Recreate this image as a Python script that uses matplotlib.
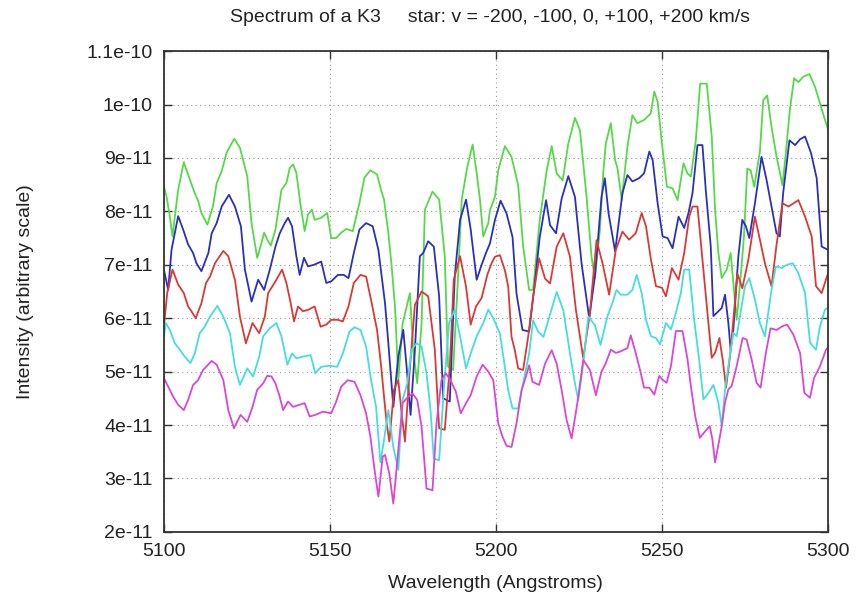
import matplotlib
matplotlib.use("Agg")
import matplotlib.pyplot as plt
import numpy as np

# values, intensity in units of 1e-11
green_wl = [5100, 5100.8, 5101.8, 5102.6, 5103.3, 5104.3, 5106, 5107.8, 5109.3, 5110.3,
            5111.3, 5113.1, 5114.8, 5115.9, 5117.4, 5118.9, 5121.2, 5122.9, 5125.1, 5126.4,
            5128.1, 5129.1, 5130.2, 5131.4, 5132.2, 5133.6, 5135.4, 5136.9, 5137.9, 5138.9,
            5139.9, 5141.2, 5142.4, 5143.4, 5144.6, 5145.4, 5147.4, 5149.2, 5150.4, 5151.9,
            5153.4, 5154.9, 5156.9, 5158.9, 5160.4, 5162.2, 5164.2, 5165.4, 5166.3, 5167.6,
            5168.6, 5169.6, 5170.6, 5171.9, 5174.1, 5175.1, 5176.3, 5177.6, 5178.6, 5179.9,
            5180.9, 5182.9, 5184.6, 5185.6, 5187.1, 5188.4, 5189.7, 5191.4, 5193.0, 5194.2,
            5195.2, 5196.2, 5197.7, 5198.2, 5199.7, 5200.7, 5202.7, 5204.7, 5206.7, 5208.2,
            5210.0, 5211.2, 5213.2, 5215.3, 5216.8, 5218.3, 5220.1, 5221.8, 5223.8, 5225.3,
            5227.3, 5228.8, 5229.8, 5231.3, 5232.3, 5233.1, 5234.6, 5235.9, 5236.6, 5237.9,
            5239.6, 5241.1, 5242.6, 5244.6, 5246.6, 5247.7, 5248.7, 5250.0, 5251.5, 5253.2,
            5254.7, 5256.5, 5257.7, 5258.7, 5260.2, 5261.5, 5263.5, 5265.0, 5266.0, 5267.0,
            5268.0, 5269.5, 5270.7, 5271.7, 5272.5, 5273.7, 5274.7, 5275.7, 5276.7, 5277.8,
            5279.5, 5280.5, 5281.7, 5283.0, 5284.5, 5286.3, 5287.5, 5288.5, 5289.8, 5291.1,
            5292.6, 5294.4, 5296.1, 5297.6, 5299.1, 5300]
green = [8.47, 8.28, 7.9, 7.53, 7.9, 8.4, 8.92, 8.6, 8.34, 8.2,
         7.97, 7.75, 8.1, 8.53, 8.75, 9.1, 9.36, 9.19, 8.66, 7.78,
         7.13, 7.34, 7.6, 7.44, 7.36, 7.66, 8.4, 8.53, 8.81, 8.88,
         8.72, 8.1, 7.63, 7.94, 8.03, 7.84, 7.88, 7.97, 7.5, 7.5,
         7.6, 7.67, 7.63, 8.16, 8.63, 8.77, 8.69, 8.4, 8.22, 7.6,
         6.97, 6.22, 4.84, 5.9, 6.47, 5.4, 4.78, 5.9, 8.03, 8.22,
         8.37, 8.22, 7.16, 5.09, 5.03, 6.53, 8.22, 8.84, 9.25, 8.72,
         8.22, 7.53, 7.78, 8.02, 8.27, 8.77, 9.22, 9.02, 8.49, 7.34,
         6.53, 6.53, 7.84, 8.77, 9.22, 8.71, 8.58, 9.27, 9.75, 9.52,
         8.27, 7.15, 6.74, 7.65, 8.71, 9.27, 9.65, 8.96, 8.81, 8.21,
         9.21, 9.8, 9.65, 9.71, 9.83, 10.24, 10.05, 9.27, 8.46, 8.43,
         8.21, 8.9, 8.71, 8.65, 9.33, 10.39, 10.39, 9.4, 8.03, 7.22,
         6.75, 6.91, 7.22, 6.53, 5.97, 6.78, 7.53, 8.8, 8.77, 8.46,
         9.12, 10.08, 10.17, 9.58, 9.03, 8.49, 9.21, 9.89, 10.49, 10.42,
         10.52, 10.57, 10.33, 10.02, 9.71, 9.54]

blue_wl = [5100, 5101.3, 5102.3, 5104.3, 5105.8, 5107.3, 5108.8, 5109.8, 5111.3, 5113.4,
           5114.4, 5115.9, 5117.4, 5119.6, 5121.4, 5123.2, 5124.4, 5126.4, 5128.4, 5130.2,
           5131.9, 5133.6, 5134.9, 5136.4, 5137.4, 5138.6, 5139.9, 5140.9, 5142.2, 5143.4,
           5145.2, 5147.4, 5148.9, 5150.4, 5152.4, 5154.2, 5155.6, 5157.2, 5158.9, 5160.9,
           5162.9, 5164.6, 5166.6, 5167.6, 5169.1, 5170.6, 5172.1, 5173.1, 5174.3, 5175.6,
           5177.1, 5178.1, 5179.6, 5181.3, 5182.9, 5184.1, 5186.1, 5187.6, 5189.2, 5191.0,
           5192.4, 5194.2, 5195.7, 5197.0, 5198.2, 5199.7, 5201.4, 5203.2, 5205.0, 5206.2,
           5208.0, 5210.0, 5211.7, 5213.2, 5215.1, 5216.3, 5218.1, 5219.8, 5221.8, 5223.8,
           5225.8, 5228.1, 5229.8, 5231.8, 5232.8, 5233.9, 5235.9, 5238.1, 5239.6, 5241.1,
           5243.1, 5244.6, 5246.2, 5247.2, 5248.7, 5250.2, 5251.7, 5253.2, 5255.0, 5256.7,
           5258.0, 5259.2, 5260.7, 5262.2, 5263.2, 5264.7, 5265.5, 5266.5, 5268.0, 5269.0,
           5270.0, 5270.7, 5271.5, 5273.0, 5274.2, 5275.3, 5276.3, 5278.0, 5280.0, 5281.5,
           5283.0, 5284.5, 5285.5, 5286.5, 5288.4, 5290.1, 5291.6, 5293.1, 5294.9, 5296.6,
           5298.1, 5300]
blue = [6.91, 6.53, 7.28, 7.91, 7.66, 7.38, 7.22, 7.03, 6.88, 7.22,
        7.59, 7.78, 8.09, 8.31, 8.09, 7.72, 6.91, 6.31, 6.72, 6.53,
        6.91, 7.34, 7.59, 7.78, 7.88, 7.72, 7.16, 6.81, 7.13, 6.97,
        7.0, 7.06, 6.66, 6.69, 6.81, 6.81, 6.75, 7.22, 7.66, 7.78,
        7.72, 7.28, 6.28, 5.53, 4.34, 5.28, 5.78, 5.09, 4.19, 5.41,
        7.16, 7.22, 7.44, 7.34, 6.41, 4.5, 4.44, 6.78, 7.84, 8.22,
        7.66, 6.72, 7.0, 7.22, 7.4, 7.84, 8.2, 7.96, 7.52, 6.46,
        5.78, 5.75, 6.65, 7.52, 8.21, 7.74, 7.59, 8.24, 8.66, 8.27,
        7.02, 6.0, 6.78, 8.27, 8.62, 7.97, 7.25, 8.34, 8.68, 8.56,
        8.62, 8.71, 9.12, 8.96, 8.15, 7.53, 7.5, 7.31, 7.9, 7.69,
        7.97, 8.34, 9.24, 9.24, 8.4, 7.34, 6.04, 6.1, 6.19, 6.44,
        5.91, 5.41, 5.78, 7.15, 7.84, 7.72, 7.5, 8.15, 9.02, 8.59,
        8.09, 7.59, 7.53, 8.34, 9.33, 9.24, 9.35, 9.4, 9.09, 8.62,
        7.34, 7.28]

red_wl = [5100, 5101.0, 5102.6, 5104.3, 5106.0, 5107.3, 5108.3, 5109.6, 5111.3, 5112.7,
          5113.9, 5115.4, 5117.9, 5119.4, 5121.4, 5122.9, 5124.7, 5126.7, 5128.7, 5130.4,
          5131.4, 5133.9, 5135.6, 5136.9, 5138.2, 5139.2, 5140.4, 5141.9, 5143.6, 5145.4,
          5147.2, 5148.9, 5150.4, 5152.4, 5153.9, 5155.6, 5157.2, 5159.2, 5160.9, 5162.4,
          5164.2, 5165.4, 5166.1, 5167.1, 5167.9, 5169.3, 5170.6, 5171.6, 5172.6, 5173.9,
          5175.6, 5177.6, 5179.6, 5181.6, 5182.9, 5184.6, 5186.1, 5187.3, 5189.2, 5191.0,
          5192.4, 5194.0, 5195.7, 5197.4, 5198.7, 5199.7, 5201.2, 5202.7, 5203.7, 5204.7,
          5205.7, 5206.7, 5208.2, 5209.7, 5211.2, 5213.0, 5214.8, 5216.3, 5218.3, 5220.3,
          5222.3, 5224.1, 5226.3, 5228.3, 5230.3, 5232.1, 5234.1, 5236.1, 5238.1, 5240.1,
          5242.1, 5243.9, 5245.2, 5246.7, 5248.2, 5250.0, 5251.2, 5253.0, 5255.0, 5256.7,
          5258.2, 5259.2, 5260.7, 5262.2, 5263.7, 5265.0, 5266.0, 5267.3, 5268.3, 5269.3,
          5270.5, 5271.7, 5272.7, 5274.2, 5276.0, 5278.0, 5279.5, 5281.0, 5283.0, 5284.5,
          5286.3, 5288.1, 5289.6, 5291.1, 5293.1, 5295.1, 5296.4, 5298.1, 5300]
red = [5.84, 6.47, 6.91, 6.63, 6.47, 6.22, 6.13, 6.0, 6.28, 6.66,
       6.78, 7.03, 7.26, 7.16, 6.72, 6.03, 5.53, 5.91, 5.72, 6.03,
       6.47, 6.72, 6.91, 6.66, 6.28, 5.94, 6.22, 6.13, 6.16, 6.22,
       5.84, 5.88, 5.97, 5.97, 5.94, 6.22, 6.66, 6.81, 6.78, 6.34,
       5.78, 5.12, 4.66, 4.03, 3.69, 4.66, 4.84, 4.22, 3.69, 4.91,
       6.25, 6.5, 6.41, 5.41, 3.94, 3.91, 5.09, 6.72, 7.16, 6.59,
       5.88, 6.22, 6.38, 6.81, 7.03, 7.15, 7.18, 6.9, 6.59, 5.65,
       5.4, 5.06, 5.03, 5.65, 6.4, 7.12, 6.74, 6.65, 7.34, 7.59,
       7.15, 6.15, 5.25, 6.09, 7.46, 7.03, 6.44, 7.28, 7.62, 7.47,
       7.59, 7.97, 7.72, 7.09, 6.6, 6.57, 6.41, 6.94, 6.72, 7.22,
       7.9, 8.09, 8.09, 7.09, 6.1, 5.26, 5.35, 5.63, 5.22, 4.7,
       5.29, 6.1, 6.84, 6.56, 7.09, 7.9, 7.47, 7.03, 6.6, 7.37,
       8.15, 8.09, 8.15, 8.21, 7.9, 7.53, 6.6, 6.47, 6.84]

cyan_wl = [5100, 5100.6, 5101.8, 5103.3, 5104.8, 5106.3, 5108.0, 5109.3, 5110.8, 5112.3,
           5113.9, 5116.1, 5117.9, 5119.9, 5121.4, 5122.9, 5125.1, 5126.9, 5128.7, 5129.9,
           5131.9, 5133.9, 5135.4, 5137.2, 5138.6, 5139.9, 5141.9, 5144.2, 5145.6, 5147.4,
           5149.9, 5152.2, 5153.9, 5155.9, 5157.4, 5159.2, 5160.9, 5162.4, 5163.9, 5165.2,
           5166.3, 5167.6, 5169.1, 5170.6, 5171.9, 5173.3, 5174.6, 5176.1, 5177.6, 5179.1,
           5180.3, 5181.3, 5182.9, 5184.3, 5185.9, 5187.6, 5189.2, 5191.0, 5192.4, 5194.2,
           5196.2, 5197.7, 5199.2, 5201.2, 5202.4, 5203.7, 5205.0, 5206.7, 5208.2, 5210.0,
           5211.2, 5212.7, 5214.3, 5216.1, 5218.3, 5220.3, 5222.3, 5223.8, 5224.8, 5226.3,
           5227.8, 5229.8, 5231.5, 5233.6, 5235.1, 5236.3, 5237.6, 5239.6, 5241.1, 5242.4,
           5243.9, 5245.2, 5246.7, 5248.2, 5249.4, 5251.2, 5252.7, 5254.2, 5255.7, 5256.7,
           5258.2, 5259.7, 5261.2, 5262.5, 5264.0, 5265.5, 5267.0, 5268.0, 5269.0, 5270.3,
           5271.5, 5272.5, 5274.0, 5275.0, 5276.3, 5278.0, 5279.5, 5281.0, 5283.0, 5284.3,
           5286.0, 5287.7, 5289.4, 5291.1, 5293.1, 5294.6, 5296.4, 5297.6, 5299.1, 5300]
cyan = [5.66, 5.91, 5.78, 5.53, 5.41, 5.28, 5.16, 5.34, 5.72, 5.84,
        6.03, 6.23, 6.03, 5.72, 5.09, 4.75, 5.06, 4.91, 5.28, 5.66,
        5.81, 5.91, 5.66, 5.13, 5.34, 5.25, 5.28, 5.31, 4.97, 5.09,
        5.11, 5.09, 5.34, 5.75, 5.83, 5.78, 5.47, 4.84, 4.34, 3.3,
        3.72, 4.28, 3.59, 3.16, 4.47, 4.78, 5.41, 5.53, 5.47, 4.97,
        4.28, 3.37, 3.34, 4.66, 5.91, 6.16, 5.66, 5.06, 5.34, 5.66,
        5.91, 6.16, 6.0, 5.71, 5.21, 4.65, 4.31, 4.31, 4.78, 5.34,
        5.96, 5.75, 5.65, 6.03, 6.49, 6.15, 5.34, 4.78, 4.47, 5.15,
        6.03, 5.87, 5.5, 6.04, 6.29, 6.53, 6.44, 6.44, 6.53, 6.81,
        6.47, 5.97, 5.66, 5.63, 5.51, 5.91, 5.79, 6.1, 6.47, 6.91,
        6.91, 5.97, 5.23, 4.48, 4.6, 4.75, 4.42, 3.98, 4.67, 5.23,
        5.73, 5.66, 6.22, 6.6, 6.75, 6.35, 5.91, 5.66, 6.53, 6.97,
        6.94, 7.0, 7.03, 6.84, 6.47, 5.54, 5.41, 5.85, 6.16, 6.2]

magenta_wl = [5100, 5101.3, 5102.8, 5104.3, 5106.0, 5107.3, 5108.8, 5110.3, 5111.8, 5114.4,
              5115.9, 5117.9, 5119.4, 5121.1, 5123.1, 5125.1, 5126.7, 5128.1, 5129.9, 5131.1,
              5132.4, 5133.6, 5134.9, 5135.9, 5137.4, 5138.9, 5140.9, 5142.4, 5143.9, 5145.6,
              5147.9, 5150.4, 5151.9, 5153.4, 5155.4, 5157.4, 5159.2, 5160.9, 5162.2, 5163.6,
              5164.6, 5165.9, 5166.6, 5167.9, 5169.1, 5170.6, 5171.9, 5173.1, 5174.9, 5176.3,
              5177.6, 5179.1, 5180.9, 5182.1, 5183.6, 5184.9, 5186.3, 5187.9, 5189.4, 5191.0,
              5192.4, 5194.2, 5196.0, 5197.7, 5199.2, 5200.7, 5202.0, 5203.2, 5204.7, 5206.2,
              5207.7, 5209.0, 5210.0, 5211.0, 5213.0, 5214.8, 5216.8, 5218.3, 5219.8, 5221.3,
              5222.8, 5224.5, 5226.3, 5228.3, 5230.1, 5231.8, 5233.1, 5234.6, 5236.1, 5237.6,
              5239.6, 5240.6, 5242.1, 5243.6, 5244.6, 5246.2, 5247.7, 5249.2, 5250.2, 5251.4,
              5252.7, 5254.2, 5256.2, 5257.7, 5258.7, 5260.0, 5261.4, 5262.7, 5264.4, 5265.2,
              5266.0, 5267.3, 5268.0, 5269.0, 5270.0, 5271.0, 5272.5, 5274.3, 5275.5, 5277.0,
              5278.5, 5279.7, 5281.3, 5282.7, 5284.5, 5286.3, 5287.7, 5289.6, 5291.6, 5292.9,
              5294.6, 5295.8, 5297.6, 5299.4, 5300]
magenta = [4.88, 4.72, 4.53, 4.38, 4.28, 4.47, 4.75, 4.84, 5.03, 5.2,
           5.13, 4.84, 4.28, 3.94, 4.19, 4.06, 4.34, 4.66, 4.78, 4.92,
           4.91, 4.78, 4.53, 4.28, 4.44, 4.34, 4.38, 4.41, 4.16, 4.19,
           4.25, 4.22, 4.44, 4.72, 4.84, 4.81, 4.56, 4.22, 3.78, 3.09,
           2.66, 3.41, 3.44, 3.09, 2.53, 3.53, 4.41, 4.5, 4.59, 4.47,
           3.97, 2.81, 2.78, 4.03, 4.84, 4.97, 4.84, 4.63, 4.22, 4.41,
           4.56, 4.91, 5.13, 5.0, 4.84, 4.03, 3.78, 3.61, 3.59, 4.03,
           4.65, 4.9, 5.12, 4.81, 4.75, 5.15, 5.4, 5.15, 4.65, 4.09,
           3.75, 4.4, 5.22, 5.03, 4.56, 5.0, 5.16, 5.41, 5.35, 5.38,
           5.44, 5.68, 5.35, 4.98, 4.7, 4.7, 4.57, 4.92, 4.85, 4.79,
           5.1, 5.76, 5.76, 5.23, 4.73, 4.17, 3.76, 3.86, 3.98, 3.73,
           3.3, 3.73, 3.98, 4.42, 4.67, 4.73, 5.1, 5.63, 5.6, 5.23,
           4.79, 4.7, 5.35, 5.81, 5.78, 5.85, 5.88, 5.69, 5.35, 4.6,
           4.51, 4.88, 5.1, 5.41, 5.45]

series = [
    (green_wl, green, '#55da47'),
    (blue_wl, blue, '#2a30bd'),
    (red_wl, red, '#d83a35'),
    (cyan_wl, cyan, '#44dede'),
    (magenta_wl, magenta, '#d947d6'),
]

y_ticks = [2, 3, 4, 5, 6, 7, 8, 9, 10, 11]
y_tick_labels = ['2e-11', '3e-11', '4e-11', '5e-11', '6e-11', '7e-11', '8e-11', '9e-11', '1e-10', '1.1e-10']
x_ticks = [5100, 5150, 5200, 5250, 5300]

plt.rcParams['font.family'] = ['Liberation Sans', 'DejaVu Sans']

fig = plt.figure(figsize=(8.58, 6.01), dpi=100)
ax = fig.add_axes([0.191, 0.115, 0.774, 0.8])

for wl, vals, col in series:
  ax.plot(wl, np.array(vals) * 1e-11, color=col, lw=1.3)

ax.set_xlim(5100, 5300)
ax.set_ylim(2e-11, 1.1e-10)
ax.set_xticks(x_ticks)
ax.set_xticklabels([str(t) for t in x_ticks])
ax.set_yticks([t * 1e-11 for t in y_ticks])
ax.set_yticklabels(y_tick_labels)
ax.tick_params(direction='in', length=6, width=1.0, top=True, right=True,
               labelsize=14, pad=8, color='#333333', labelcolor='#222222')
ax.grid(True, linestyle=(0, (1, 3)), color='#999999', lw=0.8)
for s in ax.spines.values():
  s.set_linewidth(1.3)
  s.set_color('#333333')

fig.text(490 / 858, 1 - 18 / 601, 'Spectrum of a K3     star: v = -200, -100, 0, +100, +200 km/s',
         fontsize=14, ha='center', va='center', color='#222222')
ax.set_xlabel('Wavelength (Angstroms)', fontsize=14, labelpad=11, color='#222222')
ax.set_ylabel('Intensity (arbitrary scale)', fontsize=14, labelpad=38, color='#222222')

fig.savefig('out.png', dpi=100)
